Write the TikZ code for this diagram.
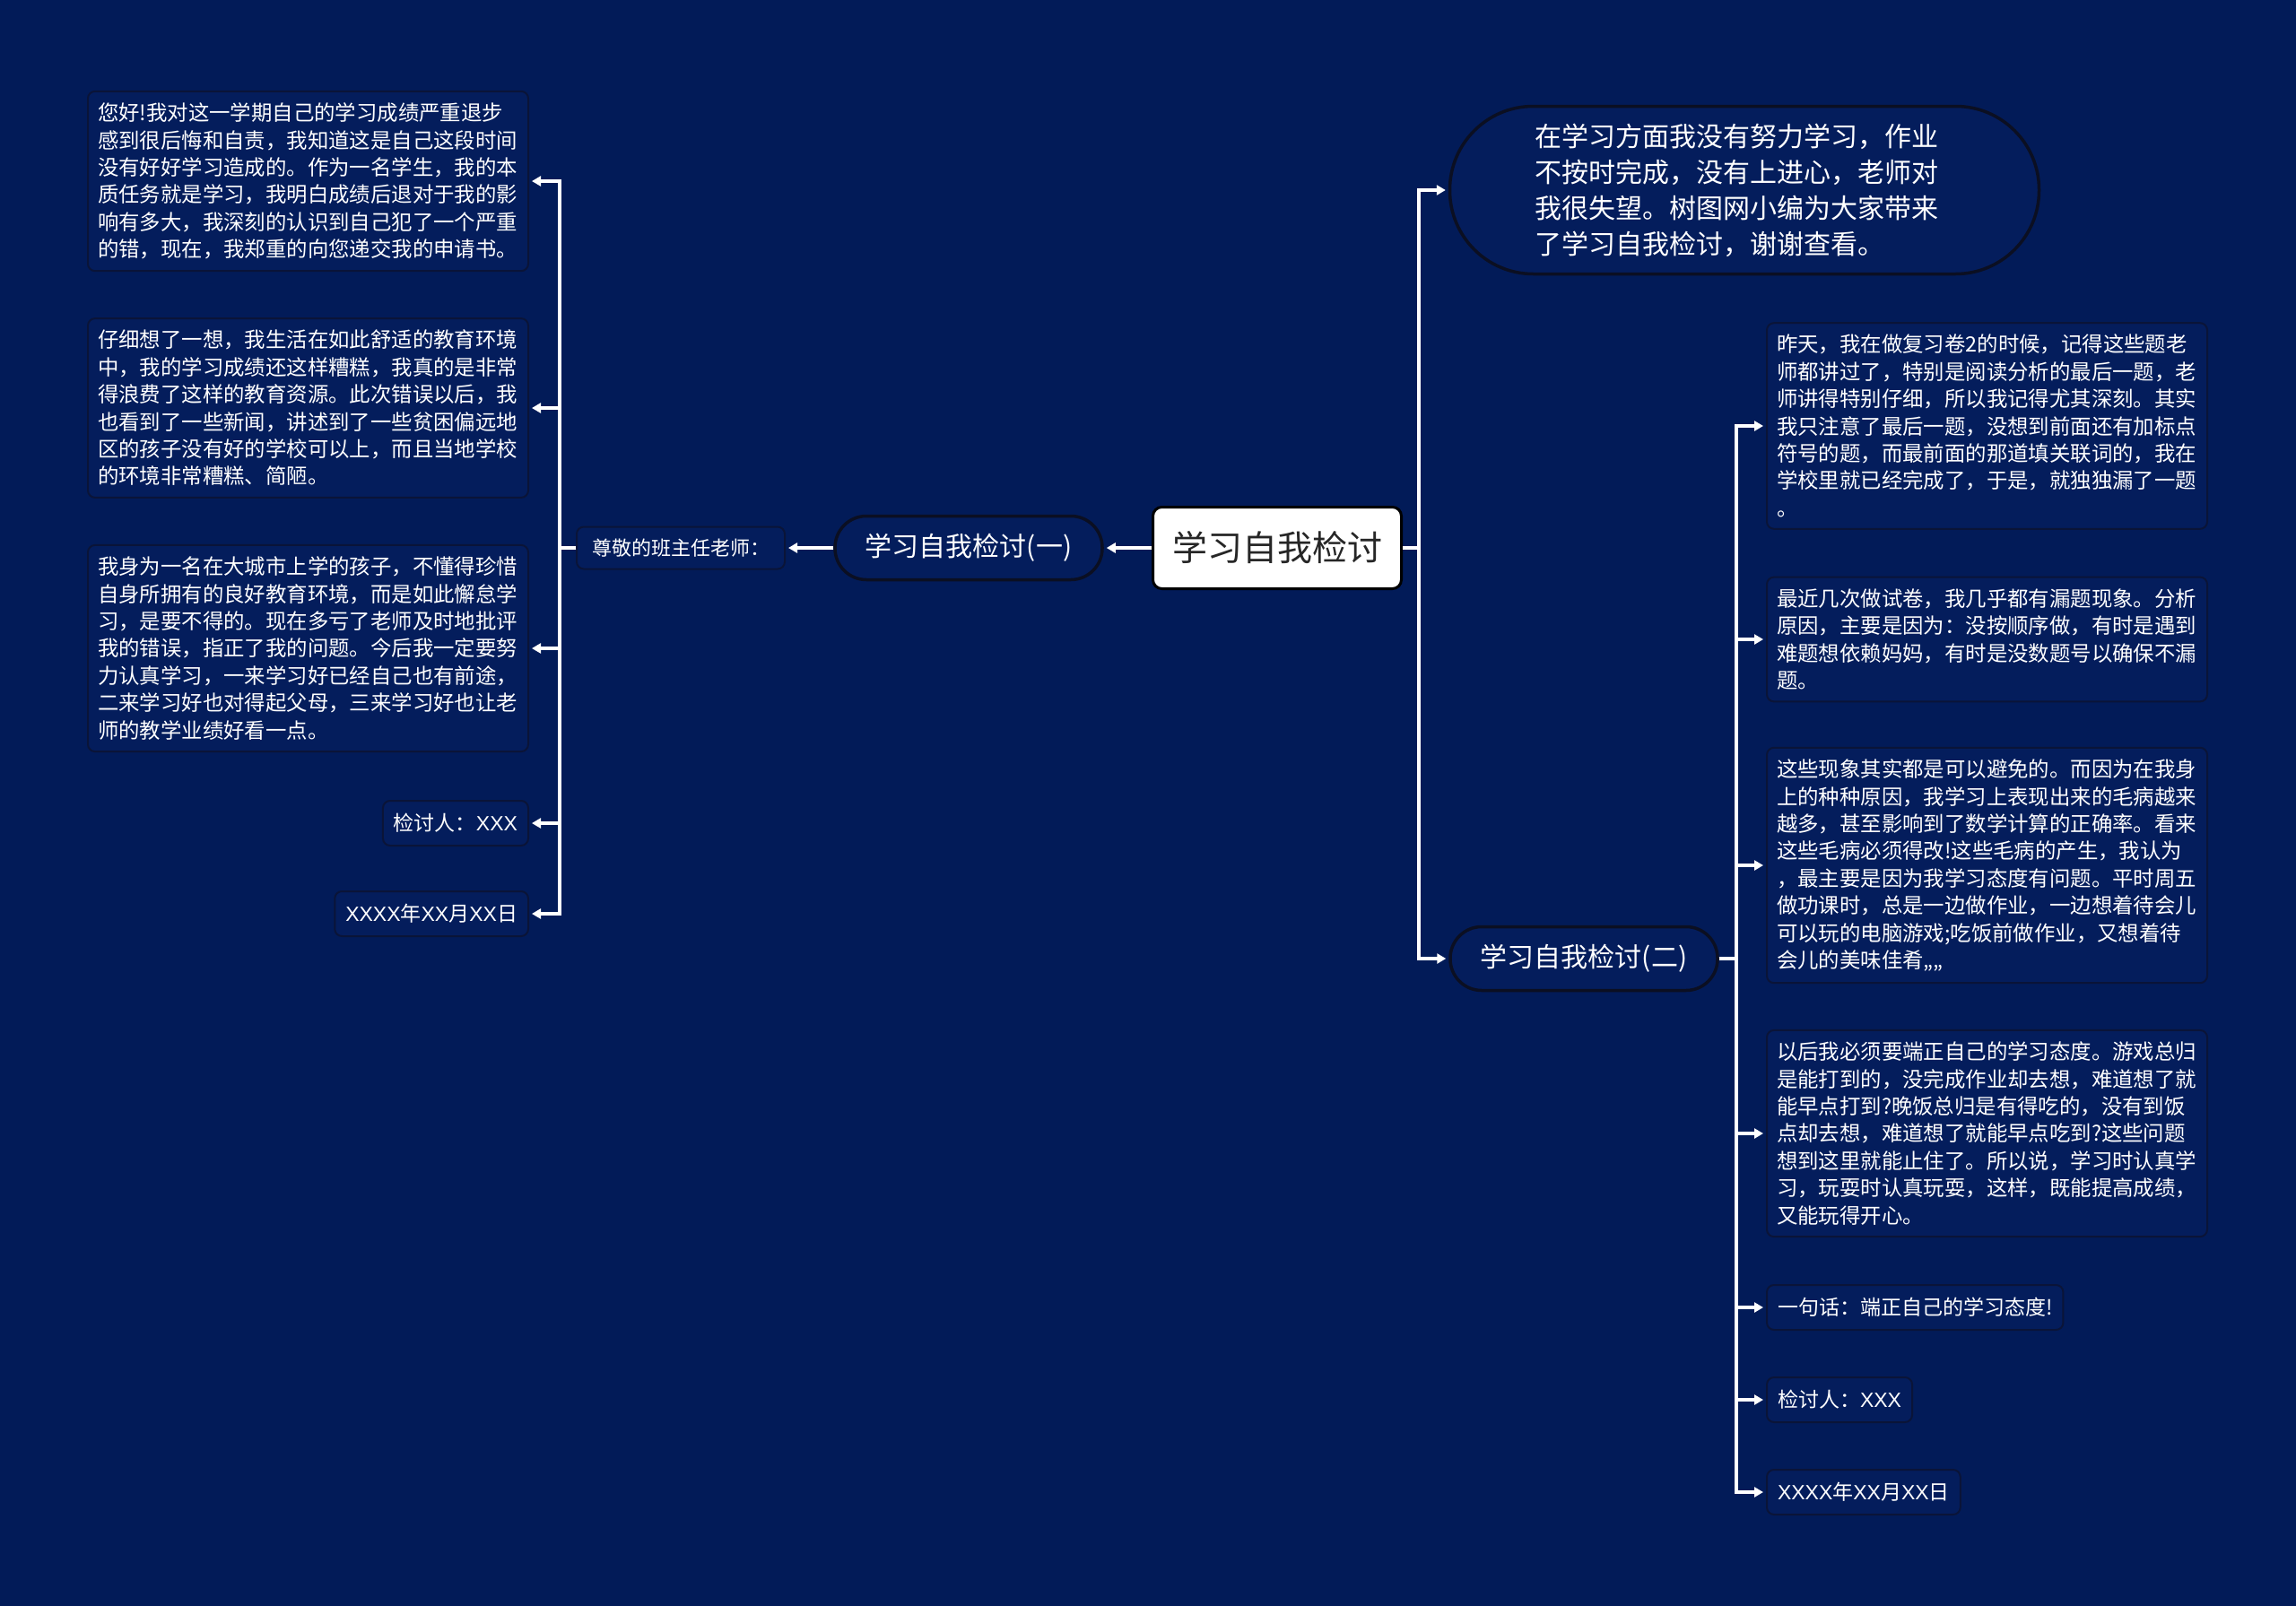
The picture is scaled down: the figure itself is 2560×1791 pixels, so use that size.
\documentclass[tikz,border=0pt]{standalone}
\usepackage{fontspec}
\setmainfont{Noto Sans CJK SC}
\newfontfamily\latf{Liberation Sans}
\usetikzlibrary{arrows.meta}
\definecolor{bgc}{HTML}{021B58}
\definecolor{boxc}{HTML}{041D5C}
\definecolor{edgec}{HTML}{0A1438}
\definecolor{pilledge}{HTML}{0B0F22}
\begin{document}
\begin{tikzpicture}[x=1pt,y=-1pt,
  conn/.style={draw=white,line width=3.2pt},
  arr/.style={conn,-{Triangle[length=10pt,width=11pt]},shorten >=3pt},
  txtbox/.style={draw=edgec,line width=2pt,fill=boxc,rounded corners=8pt,text=white,align=left,text width=469pt,inner xsep=11pt,inner ysep=13pt,font=\fontsize{23.4}{30.4}\selectfont},
  smallbox/.style={draw=edgec,line width=2pt,fill=boxc,rounded corners=8pt,text=white,inner xsep=12pt,minimum height=50pt,font=\fontsize{23}{28}\selectfont},
  pill/.style={draw=pilledge,line width=3.5pt,fill=boxc,text=white,rounded corners=35pt,minimum width=298pt,minimum height=71pt,font=\fontsize{30}{36}\selectfont},
]
\fill[bgc] (0,0) rectangle (2560,1791);
\useasboundingbox (0,0) rectangle (2560,1791);

% root
\node[draw=black,line width=3pt,fill=white,rounded corners=10pt,minimum width=277pt,minimum height=91pt,text=black!85,font=\fontsize{39}{44}\selectfont] (root) at (1424,611) {学习自我检讨};

% left branch
\node[pill] (b1) at (1080,611) {学习自我检讨(一)};
\node[draw=edgec,line width=2pt,fill=boxc,rounded corners=8pt,text=white,minimum width=232pt,minimum height=47pt,font=\fontsize{22}{26}\selectfont] (zj) at (759,611) {尊敬的班主任老师：};

\node[txtbox,anchor=east] (L1) at (590,202) {您好!我对这一学期自己的学习成绩严重退步\\感到很后悔和自责，我知道这是自己这段时间\\没有好好学习造成的。作为一名学生，我的本\\质任务就是学习，我明白成绩后退对于我的影\\响有多大，我深刻的认识到自己犯了一个严重\\的错，现在，我郑重的向您递交我的申请书。};
\node[txtbox,anchor=east] (L2) at (590,455) {仔细想了一想，我生活在如此舒适的教育环境\\中，我的学习成绩还这样糟糕，我真的是非常\\得浪费了这样的教育资源。此次错误以后，我\\也看到了一些新闻，讲述到了一些贫困偏远地\\区的孩子没有好的学校可以上，而且当地学校\\的环境非常糟糕、简陋。};
\node[txtbox,anchor=east] (L3) at (590,723) {我身为一名在大城市上学的孩子，不懂得珍惜\\自身所拥有的良好教育环境，而是如此懈怠学\\习，是要不得的。现在多亏了老师及时地批评\\我的错误，指正了我的问题。今后我一定要努\\力认真学习，一来学习好已经自己也有前途，\\二来学习好也对得起父母，三来学习好也让老\\师的教学业绩好看一点。};
\node[smallbox,anchor=east] (L4) at (590,918) {检讨人：{\latf XXX}};
\node[smallbox,anchor=east] (L5) at (590,1019) {{\latf XXXX}年{\latf XX}月{\latf XX}日};

\coordinate (lt) at (624,611);
\draw[arr] (root.west) -- (b1.east);
\draw[arr] (b1.west) -- (zj.east);
\foreach \n in {L1,L2,L3,L4,L5}{
  \draw[arr] (zj.west) -- (lt) |- (\n.east);
}

% right branch
\node[draw=pilledge,line width=3.5pt,fill=boxc,text=white,rounded corners=93pt,minimum height=187pt,text width=467pt,inner xsep=95pt,align=left,font=\fontsize{30}{40}\selectfont] (top) at (1945,212) {在学习方面我没有努力学习，作业\\不按时完成，没有上进心，老师对\\我很失望。树图网小编为大家带来\\了学习自我检讨，谢谢查看。};
\node[pill] (b2) at (1766,1069) {学习自我检讨(二)};

\coordinate (rt) at (1582,611);
\draw[arr] (root.east) -- (rt) |- (top.west);
\draw[arr] (root.east) -- (rt) |- (b2.west);

\node[txtbox,anchor=west] (R1) at (1969,475) {昨天，我在做复习卷2的时候，记得这些题老\\师都讲过了，特别是阅读分析的最后一题，老\\师讲得特别仔细，所以我记得尤其深刻。其实\\我只注意了最后一题，没想到前面还有加标点\\符号的题，而最前面的那道填关联词的，我在\\学校里就已经完成了，于是，就独独漏了一题\\。};
\node[txtbox,anchor=west] (R2) at (1969,713) {最近几次做试卷，我几乎都有漏题现象。分析\\原因，主要是因为：没按顺序做，有时是遇到\\难题想依赖妈妈，有时是没数题号以确保不漏\\题。};
\node[txtbox,anchor=west] (R3) at (1969,965) {这些现象其实都是可以避免的。而因为在我身\\上的种种原因，我学习上表现出来的毛病越来\\越多，甚至影响到了数学计算的正确率。看来\\这些毛病必须得改!这些毛病的产生，我认为\\，最主要是因为我学习态度有问题。平时周五\\做功课时，总是一边做作业，一边想着待会儿\\可以玩的电脑游戏;吃饭前做作业，又想着待\\会儿的美味佳肴„„};
\node[txtbox,anchor=west] (R4) at (1969,1264) {以后我必须要端正自己的学习态度。游戏总归\\是能打到的，没完成作业却去想，难道想了就\\能早点打到?晚饭总归是有得吃的，没有到饭\\点却去想，难道想了就能早点吃到?这些问题\\想到这里就能止住了。所以说，学习时认真学\\习，玩耍时认真玩耍，这样，既能提高成绩，\\又能玩得开心。};
\node[smallbox,anchor=west] (R5) at (1969,1458) {一句话：端正自己的学习态度!};
\node[smallbox,anchor=west] (R6) at (1969,1561) {检讨人：{\latf XXX}};
\node[smallbox,anchor=west] (R7) at (1969,1664) {{\latf XXXX}年{\latf XX}月{\latf XX}日};

\coordinate (rt2) at (1936,1069);
\foreach \n in {R1,R2,R3,R4,R5,R6,R7}{
  \draw[arr] (b2.east) -- (rt2) |- (\n.west);
}
\end{tikzpicture}
\end{document}
